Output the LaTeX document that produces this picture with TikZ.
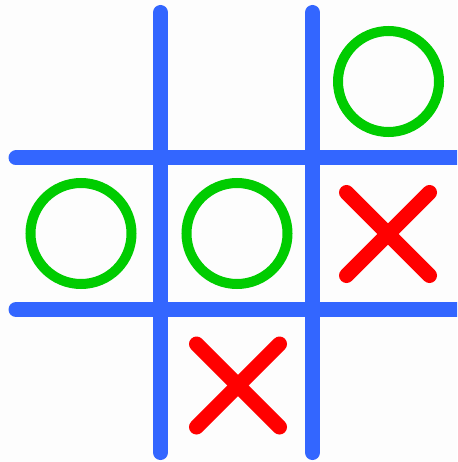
\documentclass[tikz,border=0pt]{standalone}
\usetikzlibrary{positioning, calc}
\definecolor{tttGrid}{HTML}{3366FF}
\definecolor{tttNought}{HTML}{00CC00}
\definecolor{tttCross}{HTML}{FF0000}
\definecolor{tttPaper}{HTML}{FDFDFD}
\tikzset{
    gridLine/.style={draw=tttGrid, line width=15pt, line cap=round},
    nought/.style={draw=tttNought, line width=10pt},
    crossArm/.style={draw=tttCross, line width=15pt, line cap=round}
}

\begin{document}
\begin{tikzpicture}[x=1pt, y=-1pt]

% ===== paper =====
\fill[tttPaper] (0,0) rectangle (457,462);
\useasboundingbox (0,0) rectangle (457,462);
\clip (0,0) rectangle (457,462);

% ===== board =====
\coordinate (vA1) at (160.5, 12.5);  \coordinate (vA2) at (160.5, 452.5);
\coordinate (vB1) at (312.5, 12.5);  \coordinate (vB2) at (312.5, 452.5);
\coordinate (hA1) at (16, 158);      \coordinate (hA2) at (475, 158);
\coordinate (hB1) at (16, 309.5);    \coordinate (hB2) at (475, 309.5);

\draw[gridLine] (vA1) -- (vA2);
\draw[gridLine] (vB1) -- (vB2);
\draw[gridLine] (hA1) -- (hA2);
\draw[gridLine] (hB1) -- (hB2);

% ===== noughts =====
\coordinate (c13) at (388.5, 81.5);
\coordinate (c21) at (81, 233.5);
\coordinate (c22) at (237, 233.5);
\foreach \cell in {c13, c21, c22}
    \draw[nought] (\cell) circle (50.5);

% ===== crosses =====
\coordinate (c23) at (388, 234);
\coordinate (c32) at (238, 385.5);
\foreach \cell in {c23, c32} {
    \draw[crossArm] ($(\cell)+(-41.5,-41.5)$) -- ($(\cell)+(41.5,41.5)$);
    \draw[crossArm] ($(\cell)+(-41.5,41.5)$) -- ($(\cell)+(41.5,-41.5)$);
}

\end{tikzpicture}
\end{document}
